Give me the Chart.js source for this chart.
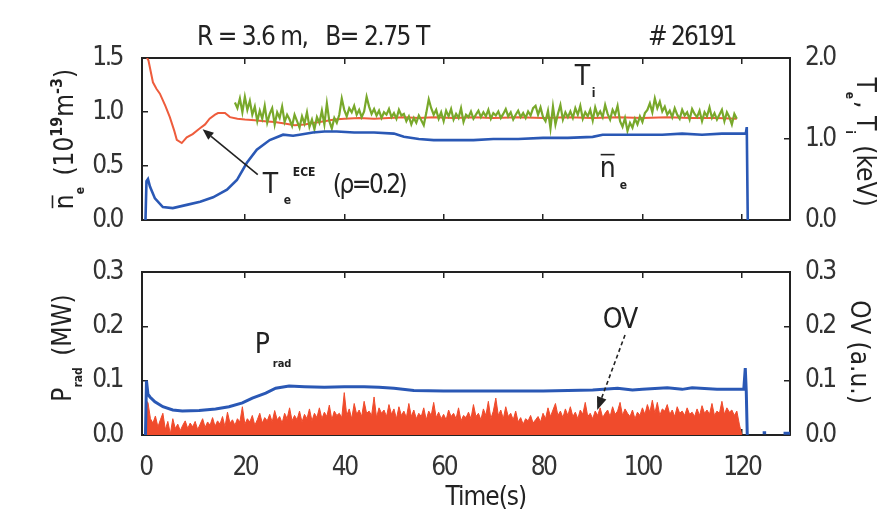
<!DOCTYPE html>
<html>
<head>
<meta charset="utf-8">
<script src="https://cdn.jsdelivr.net/npm/chart.js@4.4.1/dist/chart.umd.min.js"></script>
<style>
  html, body { margin: 0; padding: 0; background: #fff; }
  #marco { position: relative; width: 891px; height: 525px; }
  canvas { position: absolute; left: 0; top: 0; }
</style>
</head>
<body>
<div id="marco">
  <canvas id="graficoArriba" width="891" height="525"></canvas>
  <canvas id="graficoAbajo" width="891" height="525"></canvas>
</div>
<script>
// Marcas de los ejes
const marcasTiempo = [0, 20, 40, 60, 80, 100, 120];
const marcasNe = [0, 0.5, 1.0, 1.5];
const marcasTemp = [0, 1.0, 2.0];
const marcasPot = [0, 0.1, 0.2, 0.3];

// Densidad media n_e (10^19 m^-3), eje izquierdo arriba
const tiempoNe = [0, 0.2, 0.5, 0.9, 1.9, 3.5, 5.5, 8.3, 11, 13.6, 16.4, 18.4, 20.4, 22.4, 25,
  27.7, 29.7, 31, 33.7, 36, 38.5, 42, 46, 50, 52, 55, 58, 62, 66, 70, 75, 80, 85, 90, 92,
  96, 100, 104, 108, 112, 116, 119, 120.8, 121.0, 121.2];
const valoresNe = [0, 0.36, 0.38, 0.31, 0.20, 0.12, 0.11, 0.14, 0.17, 0.21, 0.28, 0.37, 0.53, 0.65, 0.74,
  0.79, 0.78, 0.79, 0.81, 0.82, 0.82, 0.81, 0.81, 0.80, 0.77, 0.75, 0.74, 0.74, 0.74, 0.75, 0.75, 0.76, 0.76, 0.77, 0.79,
  0.79, 0.79, 0.79, 0.80, 0.79, 0.80, 0.80, 0.80, 0.86, 0];

// Te ECE (rho=0.2) en keV, eje derecho arriba
const tiempoTeEce = [0.3, 0.6, 1.5, 2.2, 2.9, 4.0, 4.9, 5.8, 6.3, 7.3, 8.3, 9.5, 10.9, 12.0, 12.9,
  14.0, 14.6, 16.0, 17.0, 18.5, 20, 22, 24, 26, 28, 30, 32, 34, 36, 38, 40, 43, 46, 49, 52,
  55, 58, 62, 66, 70, 75, 80, 85, 90, 95, 100, 105, 110, 115, 119];
const valoresTeEce = [2.00, 1.97, 1.70, 1.62, 1.56, 1.41, 1.27, 1.10, 0.99, 0.95, 1.02, 1.06, 1.13, 1.18, 1.25,
  1.30, 1.32, 1.32, 1.27, 1.25, 1.24, 1.23, 1.22, 1.21, 1.19, 1.17, 1.18, 1.20, 1.22, 1.24, 1.25, 1.26, 1.25, 1.26, 1.27,
  1.26, 1.27, 1.26, 1.27, 1.26, 1.27, 1.26, 1.27, 1.26, 1.27, 1.26, 1.27, 1.26, 1.26, 1.25];

// Ti en keV, muestreo cada 0.5 s desde 18 s
const inicioTi = 18, pasoTi = 0.5;
const valoresTi = [1.45, 1.38, 1.50, 1.33, 1.52, 1.36, 1.47,
  1.30, 1.40, 1.22, 1.35, 1.25, 1.41, 1.20, 1.31, 1.38, 1.18, 1.33, 1.26, 1.40, 1.21, 1.30, 1.24,
  1.16, 1.30, 1.22, 1.14, 1.28, 1.19, 1.33, 1.15, 1.24, 1.12, 1.27, 1.20, 1.35, 1.18, 1.44, 1.22, 1.13, 1.26,
  1.20, 1.30, 1.50, 1.36, 1.28, 1.38, 1.33, 1.41, 1.30, 1.36, 1.27, 1.34, 1.52, 1.40,
  1.31, 1.37, 1.29, 1.35, 1.26, 1.33, 1.30, 1.37, 1.27, 1.32, 1.25, 1.36, 1.29, 1.31,
  1.22, 1.28, 1.18, 1.26, 1.20, 1.29, 1.23, 1.17,
  1.32, 1.49, 1.38, 1.30, 1.36, 1.25, 1.33, 1.22, 1.35, 1.28, 1.37, 1.24, 1.31, 1.26, 1.38, 1.21, 1.30, 1.27, 1.34, 1.25,
  1.30, 1.35, 1.27, 1.33, 1.28, 1.36, 1.25, 1.32, 1.29, 1.34, 1.26, 1.31, 1.37, 1.28, 1.33, 1.24, 1.30, 1.35, 1.27, 1.32, 1.26, 1.34, 1.29, 1.38,
  1.41, 1.30, 1.39, 1.27,
  1.22, 1.35, 1.13, 1.40, 1.18, 1.31, 1.42, 1.24, 1.33, 1.27,
  1.34, 1.26, 1.38, 1.30, 1.41, 1.25, 1.33, 1.28, 1.36, 1.23, 1.39, 1.29, 1.34, 1.27, 1.42, 1.31, 1.24, 1.36, 1.30, 1.41,
  1.22, 1.15, 1.26, 1.10, 1.20, 1.14, 1.25, 1.18, 1.28, 1.21, 1.32, 1.36,
  1.44, 1.33, 1.50, 1.38, 1.46, 1.34, 1.40, 1.30,
  1.35, 1.27, 1.38, 1.30, 1.25, 1.36, 1.29, 1.33, 1.24, 1.37, 1.31, 1.27, 1.35, 1.22, 1.33, 1.28, 1.39, 1.26, 1.32, 1.24,
  1.30, 1.36, 1.22, 1.33, 1.27, 1.18, 1.31, 1.25];

// Potencia radiada P_rad (MW), eje izquierdo abajo (null = sin dato)
const tiempoPrad = [0, 0.2, 0.5, 0.9, 1.9, 3.5, 5.5, 7.4, 10.8, 14.1, 16.8, 19.5, 21.5, 24.2, 26.2,
  28.9, 32, 36, 40, 44, 47, 50, 54, 60, 70, 80, 90, 95, 98, 100, 105, 108, 110, 115, 120.4,
  120.7, 120.9, 121.1, 122, 124.2, 124.9, 126, 128.4, 129.7];
const valoresPrad = [0, 0.100, 0.075, 0.070, 0.061, 0.052, 0.046, 0.044, 0.045, 0.048, 0.052, 0.059, 0.068, 0.077, 0.086,
  0.090, 0.089, 0.088, 0.089, 0.089, 0.088, 0.086, 0.082, 0.081, 0.081, 0.081, 0.083, 0.086, 0.083, 0.084, 0.087, 0.084, 0.087, 0.084, 0.084,
  0.123, 0.080, 0, null, 0.004, 0.004, null, 0.003, 0.003];

// OV (u.a.), muestreo cada 0.5 s desde 0 s, eje derecho abajo
const inicioOv = 0, pasoOv = 0.5;
const valoresOv = [
  0.064, 0.060, 0.030, 0.022, 0.035, 0.015, 0.028, 0.040, 0.010, 0.025,
  0.002, 0.030, 0.012, 0.020, 0.008, 0.018, 0.026, 0.012, 0.022, 0.015,
  0.025, 0.010, 0.020, 0.030, 0.014, 0.024, 0.018, 0.032, 0.016, 0.026,
  0.020, 0.034, 0.015, 0.042, 0.022, 0.028, 0.018, 0.030, 0.024, 0.052,
  0.020, 0.030, 0.024, 0.036, 0.018, 0.028, 0.040, 0.022, 0.032, 0.026,
  0.038, 0.024, 0.045, 0.028, 0.034, 0.022, 0.040, 0.030, 0.050, 0.026,
  0.036, 0.028, 0.044, 0.024, 0.038, 0.030, 0.048, 0.026, 0.040, 0.032,
  0.050, 0.030, 0.042, 0.034, 0.055, 0.028, 0.044, 0.036, 0.040, 0.032,
  0.078, 0.036, 0.048, 0.030, 0.058, 0.038, 0.046, 0.034, 0.062, 0.040,
  0.044, 0.036, 0.070, 0.032, 0.050, 0.040, 0.046, 0.034, 0.056, 0.038,
  0.048, 0.030, 0.052, 0.036, 0.044, 0.032, 0.058, 0.034, 0.046, 0.030,
  0.040, 0.034, 0.050, 0.028, 0.044, 0.036, 0.060, 0.032, 0.042, 0.030,
  0.038, 0.028, 0.046, 0.034, 0.040, 0.030, 0.050, 0.026, 0.036, 0.032,
  0.042, 0.030, 0.056, 0.034, 0.040, 0.028, 0.048, 0.036, 0.062, 0.030,
  0.044, 0.068, 0.036, 0.046, 0.030, 0.052, 0.034, 0.040, 0.028, 0.044,
  0.024, 0.032, 0.020, 0.030, 0.026, 0.036, 0.022, 0.028, 0.034, 0.024,
  0.040, 0.030, 0.050, 0.034, 0.046, 0.058, 0.036, 0.044, 0.032, 0.048,
  0.036, 0.052, 0.034, 0.042, 0.030, 0.046, 0.038, 0.060, 0.034, 0.040,
  0.030, 0.044, 0.036, 0.050, 0.032, 0.040, 0.046, 0.034, 0.052, 0.038,
  0.044, 0.060, 0.036, 0.048, 0.040, 0.034, 0.046, 0.030, 0.042, 0.036,
  0.050, 0.038, 0.056, 0.042, 0.064, 0.040, 0.060, 0.036, 0.048, 0.044,
  0.056, 0.038, 0.046, 0.034, 0.052, 0.040, 0.044, 0.036, 0.050, 0.038,
  0.042, 0.034, 0.048, 0.036, 0.054, 0.040, 0.046, 0.038, 0.058, 0.036,
  0.044, 0.040, 0.062, 0.038, 0.050, 0.042, 0.046, 0.036, 0.044, 0.020,
  0.0];

// Elegir una fuente estrecha si existe
function hayFuente(nombre) {
  const c = document.createElement('canvas').getContext('2d');
  const muestra = 'mmmwwwiii0123456789';
  c.font = '40px monospace';
  const base = c.measureText(muestra).width;
  c.font = '40px "' + nombre + '", monospace';
  return c.measureText(muestra).width !== base;
}
const FUENTE = ['Liberation Sans Narrow', 'DejaVu Sans Condensed', 'Roboto Condensed'].find(hayFuente) || 'Liberation Sans';
Chart.defaults.font.family = FUENTE;
Chart.defaults.color = '#333';

const TINTA = '#222';
const puntos = (ts, vs) => vs.map((v, i) => ({ x: ts[i], y: v }));
const serie = (inicio, paso, vs) => vs.map((v, i) => ({ x: inicio + i * paso, y: v }));

// Texto con sub/superindices
function textoRico(ctx, partes, x, y, tam, alinear, espacio) {
  ctx.letterSpacing = (espacio || 0) + 'px';
  const fuente = p => (p.sub || p.sup ? 'bold ' : '') + Math.round(tam * (p.sub ? 0.45 : p.sup ? 0.62 : 1)) + 'px "' + FUENTE + '"';
  const anchos = partes.map(p => { ctx.font = fuente(p); return ctx.measureText(p.t).width + (p.dx || 0); });
  const total = anchos.reduce((a, b) => a + b, 0);
  let cx = alinear === 'center' ? x - total / 2 : x;
  ctx.textAlign = 'left';
  ctx.textBaseline = 'alphabetic';
  partes.forEach((p, i) => {
    ctx.font = fuente(p);
    const dy = p.sub ? tam * 0.42 : p.sup ? -tam * 0.42 : 0;
    ctx.fillText(p.t, cx, y + dy);
    if (p.barra) ctx.fillRect(cx + 1, y - tam * 0.82, anchos[i] - 2, 1.6);
    cx += anchos[i];
  });
}

function textoGirado(ctx, partes, x, y, tam, angulo) {
  ctx.save();
  ctx.translate(x, y);
  ctx.rotate(angulo);
  textoRico(ctx, partes, 0, 0, tam, 'center', 0);
  ctx.restore();
}

function flecha(ctx, x1, y1, x2, y2, punta, ancho, discontinua) {
  const ang = Math.atan2(y2 - y1, x2 - x1);
  const bx = x2 - punta * Math.cos(ang), by = y2 - punta * Math.sin(ang);
  ctx.save();
  ctx.strokeStyle = TINTA;
  ctx.fillStyle = TINTA;
  ctx.lineWidth = 1.6;
  if (discontinua) ctx.setLineDash([4, 3]);
  ctx.beginPath(); ctx.moveTo(x1, y1); ctx.lineTo(bx, by); ctx.stroke();
  ctx.setLineDash([]);
  ctx.beginPath();
  ctx.moveTo(x2, y2);
  ctx.lineTo(bx + ancho * Math.sin(ang), by - ancho * Math.cos(ang));
  ctx.lineTo(bx - ancho * Math.sin(ang), by + ancho * Math.cos(ang));
  ctx.closePath(); ctx.fill();
  ctx.restore();
}

// Letras de marcas mas juntas (fuente estrecha del original)
const apretarTexto = {
  id: 'apretarTexto',
  beforeDraw(chart) { chart.ctx.letterSpacing = '-2.5px'; }
};

// Ejes comunes
function ejeX(posicion, conEtiquetas, alto) {
  return {
    type: 'linear', position: posicion, min: -0.7, max: 129.7,
    afterBuildTicks: s => { s.ticks = marcasTiempo.map(v => ({ value: v })); },
    ticks: { display: conEtiquetas, font: { size: 26 }, color: '#333', padding: 24, maxRotation: 0, autoSkip: false },
    grid: { drawOnChartArea: false, tickLength: -6, lineWidth: 1.5,
      color: c => (c.tick && c.tick.value === 0) ? 'rgba(0,0,0,0)' : TINTA },
    border: { color: TINTA, width: 2 },
    afterFit: s => { s.height = alto; }
  };
}
function ejeY(posicion, min, max, marcas, ancho, relleno) {
  return {
    type: 'linear', position: posicion, min: min, max: max,
    afterBuildTicks: s => { s.ticks = marcas.map(v => ({ value: v })); },
    ticks: { callback: v => v.toFixed(1), font: { size: 26 }, color: '#333', padding: relleno, autoSkip: false },
    grid: { drawOnChartArea: false, tickLength: -6, lineWidth: 1.5, color: TINTA },
    border: { color: TINTA, width: 2 },
    afterFit: s => { s.width = ancho; }
  };
}

const opcionesBase = {
  responsive: false, animation: false, devicePixelRatio: 1,
  layout: { padding: 0 },
  plugins: { legend: { display: false }, tooltip: { enabled: false } },
  elements: { point: { radius: 0 }, line: { tension: 0 } }
};

// Notas del panel superior
const notasArriba = {
  id: 'notasArriba',
  afterDraw(chart) {
    const { ctx, scales: { x, y } } = chart;
    ctx.save();
    ctx.fillStyle = TINTA;
    textoRico(ctx, [{ t: 'R = 3.6 m,   B= 2.75 T' }], 197, 45, 26, 'left', -1.5);
    textoRico(ctx, [{ t: '# 26191' }], 648, 45, 26, 'left', -2);
    // titulos de ejes
    textoGirado(ctx, [{ t: 'n', barra: true }, { t: 'e', sub: true, dx: 4 }, { t: ' (10' }, { t: '19', sup: true }, { t: 'm' }, { t: '-3', sup: true }, { t: ')' }],
      73, 139, 26, -Math.PI / 2);
    textoGirado(ctx, [{ t: 'T' }, { t: 'e', sub: true, dx: 2 }, { t: ', T' }, { t: 'i', sub: true, dx: 4 }, { t: ' (keV)' }],
      857, 142, 26, Math.PI / 2);
    // Te ECE
    const tx = x.getPixelForValue(23.6), ty = y.getPixelForValue(0.25);
    flecha(ctx, x.getPixelForValue(22.6), y.getPixelForValue(0.42), x.getPixelForValue(11.5), y.getPixelForValue(0.84), 11, 4.5, false);
    textoRico(ctx, [{ t: 'T' }], tx, ty, 28, 'left', 0);
    ctx.font = 'bold 12px "' + FUENTE + '"';
    ctx.fillText('e', tx + 21, ty + 11);
    ctx.fillText('ECE', tx + 30, ty - 17);
    textoRico(ctx, [{ t: '(\u03c1=0.2)' }], x.getPixelForValue(37.7), ty, 26, 'left', -2.5);
    // Ti
    const ix = x.getPixelForValue(86.4), iy = y.getPixelForValue(1.25);
    textoRico(ctx, [{ t: 'T' }], ix, iy, 28, 'left', 0);
    ctx.font = 'bold 12px "' + FUENTE + '"';
    ctx.fillText('i', ix + 17, iy + 12);
    // ne
    const nx = x.getPixelForValue(91.4), ny = y.getPixelForValue(0.40);
    textoRico(ctx, [{ t: 'n', barra: true }], nx, ny, 28, 'left', 0);
    ctx.font = 'bold 12px "' + FUENTE + '"';
    ctx.fillText('e', nx + 20, ny + 12);
    ctx.restore();
  }
};

// Notas del panel inferior
const notasAbajo = {
  id: 'notasAbajo',
  afterDraw(chart) {
    const { ctx, scales: { x, y, y2 } } = chart;
    ctx.save();
    ctx.fillStyle = TINTA;
    textoGirado(ctx, [{ t: 'P' }, { t: 'rad', sub: true, dx: 4 }, { t: ' (MW)' }], 71, 348, 26, -Math.PI / 2);
    textoGirado(ctx, [{ t: 'OV (a.u.)' }], 851, 352, 26, Math.PI / 2);
    textoRico(ctx, [{ t: 'Time(s)' }], x.getPixelForValue(68.5), 505, 26, 'center', -1);
    // Prad
    const px = x.getPixelForValue(22), py = y.getPixelForValue(0.151);
    textoRico(ctx, [{ t: 'P' }], px, py, 28, 'left', 0);
    ctx.font = 'bold 11px "' + FUENTE + '"';
    ctx.fillText('rad', px + 18, py + 14);
    // OV
    textoRico(ctx, [{ t: 'OV' }], x.getPixelForValue(92), y2.getPixelForValue(0.197), 28, 'left', -1);
    flecha(ctx, x.getPixelForValue(96.5), y2.getPixelForValue(0.184), x.getPixelForValue(90.9), y2.getPixelForValue(0.046), 13, 5, true);
    ctx.restore();
  }
};

// Panel superior: ne, Te, Ti
new Chart(document.getElementById('graficoArriba').getContext('2d'), {
  type: 'line',
  data: {
    datasets: [
      { label: 'ne', data: puntos(tiempoNe, valoresNe), yAxisID: 'y', borderColor: '#2a58b5', borderWidth: 2.6 },
      { label: 'Ti', data: serie(inicioTi, pasoTi, valoresTi), yAxisID: 'y2', borderColor: '#78a82a', borderWidth: 2.2 },
      { label: 'Te ECE', data: puntos(tiempoTeEce, valoresTeEce), yAxisID: 'y2', borderColor: '#ee5c3c', borderWidth: 2 }
    ]
  },
  options: Object.assign({}, opcionesBase, {
    scales: {
      x: ejeX('bottom', false, 305),
      x2: ejeX('top', false, 58),
      y: ejeY('left', 0, 1.5, marcasNe, 142, 26),
      y2: ejeY('right', 0, 2.0, marcasTemp, 101, 21)
    }
  }),
  plugins: [apretarTexto, notasArriba]
});

// Panel inferior: Prad, OV
new Chart(document.getElementById('graficoAbajo').getContext('2d'), {
  type: 'line',
  data: {
    datasets: [
      { label: 'Prad', data: puntos(tiempoPrad, valoresPrad), yAxisID: 'y', borderColor: '#2a58b5', borderWidth: 3, spanGaps: false },
      { label: 'OV', data: serie(inicioOv, pasoOv, valoresOv), yAxisID: 'y2', borderColor: '#f04b2c', backgroundColor: '#f04b2c', borderWidth: 1, fill: 'origin' }
    ]
  },
  options: Object.assign({}, opcionesBase, {
    scales: {
      x: ejeX('bottom', true, 90),
      x2: ejeX('top', false, 272),
      y: ejeY('left', 0, 0.3, marcasPot, 142, 26),
      y2: ejeY('right', 0, 0.3, marcasPot, 101, 21)
    }
  }),
  plugins: [apretarTexto, notasAbajo]
});
</script>
</body>
</html>
